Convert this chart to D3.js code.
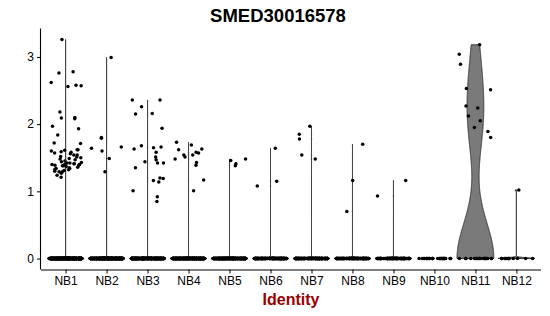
<!DOCTYPE html>
<html>
<head>
<meta charset="utf-8">
<title>SMED30016578</title>
<style>
  body { margin: 0; background: #fff; }
  text { font-family: "Liberation Sans", Arial, sans-serif; }
</style>
</head>
<body>
<svg id="svg"></svg>
<script src="https://d3js.org/d3.v7.min.js"></script>
<script>
  const gene = "SMED30016578";
  const clusters = ["NB1", "NB2", "NB3", "NB4", "NB5", "NB6", "NB7", "NB8", "NB9", "NB10", "NB11", "NB12"];
  // cells with no expression in each cluster
  const zeroCounts = [400, 350, 300, 300, 260, 160, 160, 130, 100, 30, 20, 12];
  // non-zero expression values
  const nb1 = [3.26, 2.78, 2.76, 2.62, 2.58, 2.57, 2.56, 2.18, 2.10, 2.09, 2.08, 1.97, 1.93, 1.84, 1.72, 1.71,
    1.62, 1.62, 1.61, 1.60, 1.59, 1.58, 1.57, 1.56, 1.54, 1.54, 1.52, 1.51, 1.50, 1.49, 1.48, 1.47, 1.45, 1.44,
    1.43, 1.42, 1.42, 1.41, 1.41, 1.40, 1.40, 1.40, 1.39, 1.39, 1.38, 1.38, 1.37, 1.36, 1.35, 1.34, 1.34, 1.33,
    1.32, 1.31, 1.30, 1.29, 1.29, 1.27, 1.24, 1.21];
  const nb2 = [2.99, 1.80, 1.79, 1.66, 1.64, 1.60, 1.49, 1.29];
  const nb3 = [2.36, 2.36, 2.26, 2.16, 2.15, 1.94, 1.68, 1.66, 1.65, 1.63, 1.58, 1.51, 1.47, 1.44, 1.42, 1.42,
    1.35, 1.20, 1.19, 1.16, 1.14, 1.01, 0.92, 0.85];
  const nb4 = [1.73, 1.69, 1.63, 1.62, 1.58, 1.57, 1.54, 1.54, 1.51, 1.48, 1.43, 1.39, 1.17, 1.01];
  const nb5 = [1.48, 1.46, 1.41, 1.38];
  const nb6 = [1.64, 1.15, 1.08];
  const nb7 = [1.97, 1.85, 1.78, 1.54, 1.48];
  const nb8 = [1.70, 1.16, 0.70];
  const nb9 = [1.16, 0.93];
  const nb10 = [];
  const nb11 = [3.18, 3.04, 2.89, 2.53, 2.51, 2.27, 2.24, 2.12, 2.05, 1.95, 1.89, 1.80];
  const nb12 = [1.02];
  const nonZero = [nb1, nb2, nb3, nb4, nb5, nb6, nb7, nb8, nb9, nb10, nb11, nb12];
  const yTicks = [0, 1, 2, 3];

  const width = 550, height = 316;
  const margin = { top: 28.5, right: 9, bottom: 46.5, left: 41 };

  const groups = clusters.map((c, i) => ({
    name: c,
    values: d3.range(zeroCounts[i]).map(() => 0).concat(nonZero[i])
  }));

  const svg = d3.select("#svg").attr("width", width).attr("height", height);

  const x = d3.scalePoint().domain(clusters)
    .range([margin.left, width - margin.right]).padding(0.6);
  const step = x.step();

  const yMax = d3.max(groups, g => d3.max(g.values));
  const pad = yMax * 0.05;
  const y = d3.scaleLinear().domain([-pad, yMax + pad])
    .range([height - margin.bottom, margin.top]);

  // R's bw.nrd0; a zero IQR (mostly-zero clusters) gives a near-spike, drawn as a line
  function bandwidth(v) {
    const s = v.slice().sort(d3.ascending);
    const iqr = d3.quantileSorted(s, 0.75) - d3.quantileSorted(s, 0.25);
    const lo = Math.min(d3.deviation(v), iqr / 1.34);
    return lo > 0 ? 0.9 * lo * Math.pow(v.length, -0.2) : 0.012;
  }

  function violin(v) {
    const lo = d3.min(v), hi = d3.max(v);
    if (hi <= lo) return null;
    const bw = bandwidth(v);
    const grid = d3.range(512).map(i => lo + (hi - lo) * i / 511);
    const dens = grid.map(t => d3.sum(v, d => Math.exp(-0.5 * ((t - d) / bw) ** 2)));
    const m = d3.max(dens);
    return grid.map((t, i) => ({ y: t, w: dens[i] / m }));
  }

  const plot = svg.append("g");

  const area = d3.area()
    .y(d => y(d.y))
    .x0(d => -d.w * step * 0.45)
    .x1(d => d.w * step * 0.45);

  groups.forEach(g => {
    const shape = violin(g.values);
    if (!shape) return;
    plot.append("path")
      .attr("transform", `translate(${x(g.name)},0)`)
      .attr("d", area(shape))
      .attr("fill", "#7a7a7a")
      .attr("stroke", "#2a2a2a")
      .attr("stroke-width", 0.9);
  });

  // deterministic horizontal jitter (hashed index), +-0.4 of a step
  const jitter = (i, gi) => {
    const s = Math.sin((i + 1) * 12.9898 + (gi + 1) * 78.233) * 43758.5453;
    return s - Math.floor(s) - 0.5;
  };
  groups.forEach((g, gi) => {
    plot.append("g").selectAll("circle")
      .data(g.values)
      .join("circle")
      .attr("cx", (d, i) => x(g.name) + jitter(i, gi) * 0.8 * step)
      .attr("cy", d => y(d))
      .attr("r", 1.75)
      .attr("fill", "#000");
  });

  const xAxis = svg.append("g")
    .attr("transform", `translate(0,${height - margin.bottom})`)
    .call(d3.axisBottom(x).tickSize(4).tickPadding(3));
  const yAxis = svg.append("g")
    .attr("transform", `translate(${margin.left},0)`)
    .call(d3.axisLeft(y).tickValues(yTicks).tickFormat(d3.format("d")).tickSize(4).tickPadding(3));

  [xAxis, yAxis].forEach(a => {
    a.select(".domain").attr("stroke", "#000").attr("stroke-width", 1.1);
    a.selectAll(".tick line").attr("stroke", "#000").attr("stroke-width", 1);
    a.selectAll(".tick text")
      .attr("fill", "#000")
      .style("font-family", "'Liberation Sans', Arial, sans-serif")
      .style("font-size", "12px");
  });
  // drop the outer end ticks of the domain path
  xAxis.select(".domain").attr("d", `M${margin.left},0.5H${width - margin.right}`);
  yAxis.select(".domain").attr("d", `M-0.5,${height - margin.bottom}V${margin.top}`);

  svg.append("text")
    .attr("x", 278)
    .attr("y", 21.5)
    .attr("text-anchor", "middle")
    .style("font-size", "18.5px")
    .style("font-weight", "bold")
    .text(gene);

  svg.append("text")
    .attr("x", (margin.left + width - margin.right) / 2)
    .attr("y", 305)
    .attr("text-anchor", "middle")
    .attr("fill", "#990000")
    .style("font-size", "16px")
    .style("font-weight", "bold")
    .text("Identity");
</script>
</body>
</html>
